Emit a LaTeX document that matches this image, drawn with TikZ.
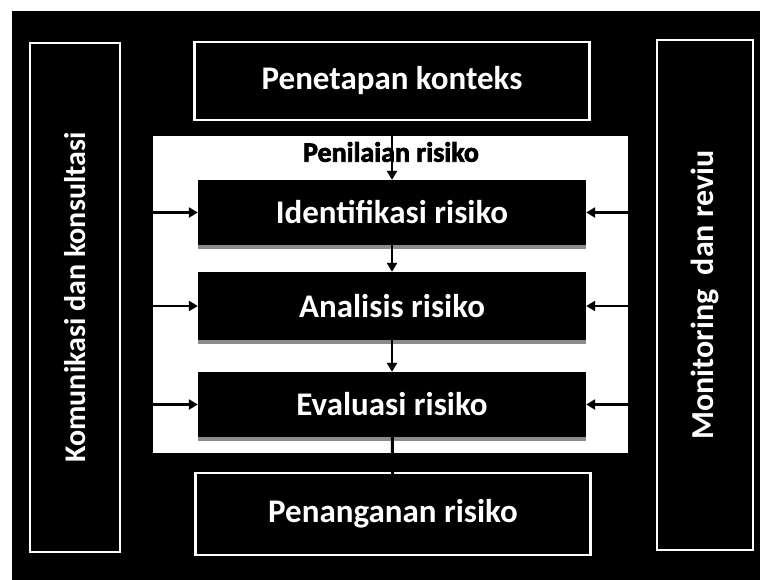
\documentclass[tikz,border=0pt]{standalone}
\usepackage{fontspec}
\setmainfont{Carlito}
\newfontfamily\tebal{Carlito}[BoldFeatures={FakeBold=2.5}]
\usetikzlibrary{arrows.meta, positioning, shadows}

\tikzset{
  sidebox/.style={draw=white, line width=2.5pt, fill=black, text=white,
    font=\fontsize{30}{34}\selectfont\bfseries, rotate=90, inner sep=0pt},
  outerbox/.style={draw=white, line width=2.5pt, fill=black, text=white,
    font=\fontsize{33}{38}\selectfont\bfseries, minimum width=395pt, inner sep=0pt},
  stepbox/.style={fill=black, text=white, font=\fontsize{33}{38}\selectfont\bfseries,
    minimum width=388pt, minimum height=65pt, inner sep=0pt,
    drop shadow={shadow xshift=0pt, shadow yshift=-4pt, fill=black!45, opacity=1}},
  flow/.style={line width=2.5pt, -{Triangle[length=9pt, width=10pt]}}
}

\begin{document}
\begin{tikzpicture}[x=1pt, y=-1pt]

% Background
\useasboundingbox (0,0) rectangle (760,580);
\fill[white] (0,0) rectangle (760,580);
\fill[black] (12,11) rectangle (760,580);

% Side bars
\node[sidebox, minimum width=509pt, minimum height=90pt] (kom) at (75,297.5)
  {Komunikasi dan konsultasi};
\node[sidebox, minimum width=510pt, minimum height=96pt,
  font=\fontsize{32}{36}\selectfont\bfseries] (mon) at (705,295)
  {Monitoring\ \ dan reviu};

% Top and bottom steps
\node[outerbox, minimum height=78pt] (kont) at (392,81) {Penetapan konteks};
\node[outerbox, minimum height=82pt] (tangan) at (393,514) {Penanganan risiko};

% --- Penilaian risiko panel ---
\node[fill=white, minimum width=475pt, minimum height=317pt, inner sep=0pt] (panel)
  at (390.5,294.5) {};
\node[font=\fontsize{28}{30}\selectfont\tebal\bfseries] (judul) at (391,152) {Penilaian risiko};

\node[stepbox] (ident) at (392,212.5) {Identifikasi risiko};
\node[stepbox, minimum height=68pt] (anal) at (392,306) {Analisis risiko};
\node[stepbox] (eval) at (392,404.5) {Evaluasi risiko};

% Flow down
\draw[flow] (kont) -- (ident);
\draw[flow] (ident) -- (anal);
\draw[flow] (anal) -- (eval);
\draw[line width=3pt, shorten >=-3pt] (eval) -- (tangan);

% Side inputs
\foreach \s in {ident, anal, eval} {
  \draw[flow] (panel.west |- \s) -- (\s.west);
  \draw[flow] (panel.east |- \s) -- (\s.east);
}

\end{tikzpicture}
\end{document}
